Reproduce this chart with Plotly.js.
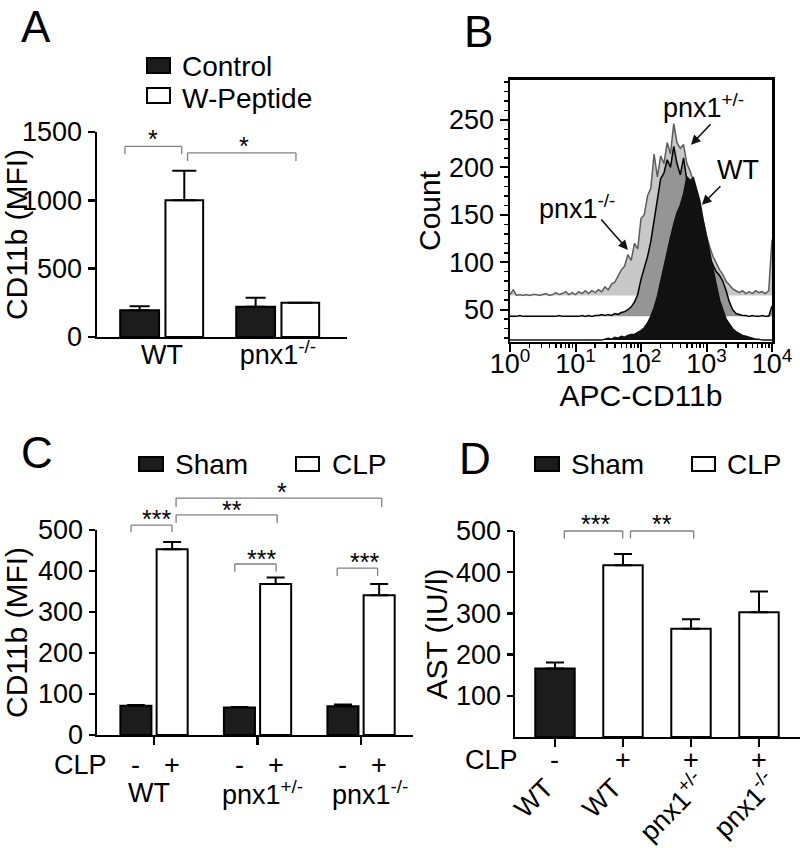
<!DOCTYPE html>
<html><head><meta charset="utf-8">
<script src="https://cdn.plot.ly/plotly-3.0.1.min.js"></script>
<style>html,body{margin:0;padding:0;background:#fff;} #chart{width:800px;height:848px;}</style>
</head><body><div id="chart"></div>
<script>
// ---------------- Panel A data ----------------
const aGroups = ['WT', 'pnx1<sup>-/-</sup>'];
const aControl = [195, 222];
const aControlErr = [30, 66];
const aPeptide = [1000, 251];
const aPeptideErr = [217, 0];

// ---------------- Panel B data (offset histograms; x = log10 APC-CD11b) ----------------
const bExp = [0.00,0.05,0.10,0.15,0.20,0.25,0.30,0.35,0.40,0.45,0.50,0.55,0.60,0.65,0.70,0.75,0.80,0.85,0.90,0.95,
              1.00,1.05,1.10,1.15,1.20,1.25,1.30,1.35,1.40,1.45,1.50,1.55,1.60,1.65,1.70,1.75,1.80,1.85,1.90,1.95,
              2.00,2.05,2.10,2.15,2.20,2.25,2.30,2.35,2.40,2.45,2.50,2.55,2.60,2.65,2.70,2.75,2.80,2.85,2.90,2.95,
              3.00,3.05,3.10,3.15,3.20,3.25,3.30,3.35,3.40,3.45,3.50,3.55,3.60,3.65,3.70,3.75,3.80,3.85,3.90,3.95,4.00];
const bKO  = [66,71,65,66,65,66,65,66,66,65,66,67,65,66,68,66,67,69,66,68,
              66,69,67,70,67,70,68,71,69,74,71,77,79,85,92,96,108,102,120,114,
              146,150,170,178,214,190,212,204,226,214,246,226,220,224,204,196,186,174,158,142,
              128,116,106,99,92,87,80,76,72,70,68,70,67,69,67,70,68,69,67,70,124];
const bHet = [43,43,43,44,43,43,43,43,43,43,43,43,43,43,43,44,43,43,43,43,
              43,43,44,43,44,43,44,44,45,44,45,44,46,45,47,48,50,53,58,66,
              82,94,106,122,146,166,188,194,208,200,222,204,192,210,186,182,178,166,150,132,
              118,104,96,90,86,80,70,58,50,46,45,44,44,43,44,43,43,44,43,43,54];
const bWT  = [18,18,18,18,18,18,18,18,18,18,18,18,18,18,18,18,18,18,18,18,
              18,18,18,18,18,18,18,18,18,19,20,19,21,20,22,21,23,24,24,26,
              28,31,36,43,52,64,80,94,110,126,140,152,160,172,190,186,189,176,164,144,
              126,110,92,76,60,49,40,35,30,27,25,23,22,21,20,19,19,18,18,18,18];
const bBaseKO = 65, bBaseHet = 43, bBaseWT = 18;

// ---------------- Panel C data ----------------
const cGroups = ['WT', 'pnx1<sup>+/-</sup>', 'pnx1<sup>-/-</sup>'];
const cSham = [71, 67, 70];
const cShamErr = [2, 1.5, 4.5];
const cCLP = [453, 368, 341];
const cCLPErr = [18, 16, 27];

// ---------------- Panel D data ----------------
const dGenotype = ['WT', 'WT', 'pnx1<sup>+/-</sup>', 'pnx1<sup>-/-</sup>'];
const dCLP = ['-', '+', '+', '+'];
const dAST = [166, 417, 263, 303];
const dASTErr = [15, 27, 23, 50];

// ---------------- styling ----------------
const FONT = 'Liberation Sans, Arial, Helvetica, sans-serif';
const TICK = 27, TITLE = 30, LEG = 28, STAR = 25, LETTER = 44;
const DARK = '#1c1c1c';
const BRK = '#808080';
const zeros = a => a.map(() => 0);

function errY(arr, w) {
  return {type: 'data', symmetric: false, array: arr, arrayminus: zeros(arr),
          color: '#000', thickness: 2, width: w};
}
function barTrace(x, y, err, xa, ya, fill, offset, width, capw) {
  return {type: 'bar', x: x, y: y, xaxis: xa, yaxis: ya, offset: offset, width: width,
          marker: {color: fill, line: {color: '#000', width: 2}},
          error_y: errY(err, capw), showlegend: false, hoverinfo: 'skip'};
}

const traces = [];
// Panel A
traces.push(barTrace(aGroups, aControl, aControlErr, 'x', 'y', DARK, -0.36, 0.335, 10));
traces.push(barTrace(aGroups, aPeptide, aPeptideErr, 'x', 'y', '#fff', 0.03, 0.325, 12));

// Panel B
const bX = bExp.map(e => Math.pow(10, e));
function histPair(vals, base, fillc, linec) {
  traces.push({type: 'scatter', mode: 'lines', x: bX, y: bX.map(() => base), xaxis: 'x2', yaxis: 'y2',
               line: {width: 0, color: fillc}, showlegend: false, hoverinfo: 'skip'});
  traces.push({type: 'scatter', mode: 'lines', x: bX, y: vals, xaxis: 'x2', yaxis: 'y2',
               fill: 'tonexty', fillcolor: fillc, line: {width: 1.5, color: linec},
               showlegend: false, hoverinfo: 'skip'});
}
histPair(bKO, bBaseKO, '#c8c8c8', '#5c5c5c');
histPair(bHet, bBaseHet, '#959595', '#000000');
histPair(bWT, bBaseWT, '#111111', '#111111');

// Panel C
traces.push(barTrace(cGroups, cSham, cShamErr, 'x3', 'y3', DARK, -0.325, 0.30, 9));
traces.push(barTrace(cGroups, cCLP, cCLPErr, 'x3', 'y3', '#fff', 0.025, 0.30, 9));

// Panel D
const dIdx = dAST.map((v, i) => i);
const dSh = dIdx.filter(i => dCLP[i] === '-');
const dCl = dIdx.filter(i => dCLP[i] === '+');
traces.push(barTrace(dSh, dSh.map(i => dAST[i]), dSh.map(i => dASTErr[i]), 'x4', 'y4', DARK, -0.29, 0.58, 9));
traces.push(barTrace(dCl, dCl.map(i => dAST[i]), dCl.map(i => dASTErr[i]), 'x4', 'y4', '#fff', -0.29, 0.58, 9));

// ---------------- axes ----------------
const baseAxis = {showline: true, linecolor: '#000', linewidth: 2.5, showgrid: false, zeroline: false,
                  tickcolor: '#000', tickwidth: 2.5, tickfont: {size: TICK, color: '#000', family: FONT}};
const layout = {
  width: 800, height: 848, margin: {l: 0, r: 0, t: 0, b: 0},
  paper_bgcolor: '#fff', plot_bgcolor: 'rgba(0,0,0,0)',
  font: {family: FONT, color: '#000'},
  barmode: 'overlay', showlegend: false,
  xaxis: Object.assign({}, baseAxis, {domain: [0.12125, 0.43375], anchor: 'y', type: 'category',
          range: [-0.56, 1.595], ticks: '', ticklabelstandoff: -8}),
  yaxis: Object.assign({}, baseAxis, {domain: [0.6026, 0.8443], anchor: 'x', range: [0, 1500],
          tickvals: [0, 500, 1000, 1500], ticks: 'outside', ticklen: 7,
          title: {text: 'CD11b (MFI)', font: {size: TITLE}, standoff: 2}}),
  xaxis2: Object.assign({}, baseAxis, {domain: [0.6375, 0.965], anchor: 'y2', type: 'log', range: [0, 4],
          tickvals: [1, 10, 100, 1000, 10000],
          ticktext: ['10<sup>0</sup>', '10<sup>1</sup>', '10<sup>2</sup>', '10<sup>3</sup>', '10<sup>4</sup>'],
          ticks: 'outside', ticklen: 8, tickwidth: 2, mirror: true, ticklabelstandoff: -12,
          minor: {dtick: 'D1', ticks: 'outside', ticklen: 4, tickwidth: 1.5, tickcolor: '#000', showgrid: false},
          title: {text: 'APC-CD11b', font: {size: TITLE}, standoff: 0}}),
  yaxis2: Object.assign({}, baseAxis, {domain: [0.5967, 0.9057], anchor: 'x2', range: [16, 292],
          tickvals: [50, 100, 150, 200, 250], ticks: 'outside', ticklen: 8, tickwidth: 2, mirror: true,
          minor: {dtick: 10, tick0: 0, ticks: 'outside', ticklen: 4, tickwidth: 1.5, tickcolor: '#000', showgrid: false},
          title: {text: 'Count', font: {size: TITLE}, standoff: 0}}),
  xaxis3: Object.assign({}, baseAxis, {domain: [0.12125, 0.51625], anchor: 'y3', type: 'category',
          range: [-0.551, 2.502], ticks: 'outside', ticklen: 8, showticklabels: false}),
  yaxis3: Object.assign({}, baseAxis, {domain: [0.1333, 0.375], anchor: 'x3', range: [0, 500],
          tickvals: [0, 100, 200, 300, 400, 500], ticks: 'outside', ticklen: 6,
          title: {text: 'CD11b (MFI)', font: {size: TITLE}, standoff: 2}}),
  xaxis4: Object.assign({}, baseAxis, {domain: [0.64375, 1.0], anchor: 'y4', range: [-0.588, 3.603],
          tickvals: [0, 1, 2, 3], ticks: 'outside', ticklen: 8, showticklabels: false}),
  yaxis4: Object.assign({}, baseAxis, {domain: [0.1309, 0.3738], anchor: 'x4', range: [0, 500],
          tickvals: [100, 200, 300, 400, 500], ticks: 'outside', ticklen: 6,
          title: {text: 'AST (IU/l)', font: {size: TITLE}, standoff: 0}}),
  shapes: [], annotations: []
};

const S = layout.shapes, A = layout.annotations;
// convert axis values to paper fractions (annotations outside an axis range are hidden otherwise)
function xP(ax, v) { const a = layout[ax]; return a.domain[0] + (v - a.range[0]) / (a.range[1] - a.range[0]) * (a.domain[1] - a.domain[0]); }
function yP(ax, v) { const a = layout[ax]; return a.domain[0] + (v - a.range[0]) / (a.range[1] - a.range[0]) * (a.domain[1] - a.domain[0]); }
function txt(x, y, text, size, extra) {
  A.push(Object.assign({x: x, y: y, xref: 'paper', yref: 'paper', text: text, showarrow: false,
    font: {size: size, color: '#000', family: FONT}, xanchor: 'center', yanchor: 'middle'}, extra || {}));
}
function txtD(xa, ya, x, y, text, size, extra) { txt(xP(xa, x), yP(ya, y), text, size, extra); }
function bracket(xr, yr, ymax, x0, x1, top, end) {
  const line = (a, b, c, d) => S.push({type: 'line', xref: xr, yref: yr + ' domain', x0: a, x1: b,
    y0: c / ymax, y1: d / ymax, line: {color: BRK, width: 1.3}});
  line(x0, x0, end, top); line(x0, x1, top, top); line(x1, x1, top, end);
}
function legBox(px0, py0, px1, py1, fill) {
  S.push({type: 'rect', xref: 'paper', yref: 'paper', x0: px0 / 800, x1: px1 / 800,
          y0: 1 - py1 / 848, y1: 1 - py0 / 848, fillcolor: fill, line: {color: '#000', width: 2}});
}
function legText(px, py, t) { txt(px / 800, 1 - py / 848, t, LEG, {xanchor: 'left'}); }

// Panel letters
txt(36 / 800, 1, 'A', LETTER, {yanchor: 'top'});
txt(478 / 800, 1 - 5 / 848, 'B', LETTER, {yanchor: 'top'});
txt(37 / 800, 1 - 452 / 848, 'C', LETTER);
txt(475 / 800, 1 - 458 / 848, 'D', LETTER);

// Legends
legBox(147, 58, 170, 73, DARK); legText(180, 67, 'Control');
legBox(147, 88, 170, 103, '#fff'); legText(180, 98, 'W-Peptide');
legBox(139, 457, 163, 471, DARK); legText(173, 465, 'Sham');
legBox(296, 457, 319, 471, '#fff'); legText(330, 465, 'CLP');
legBox(535, 457, 559, 471, DARK); legText(569, 465, 'Sham');
legBox(692, 457, 715, 471, '#fff'); legText(725, 465, 'CLP');

// Panel A significance
bracket('x', 'y', 1500, -0.319, 0.17, 1395, 1337);
bracket('x', 'y', 1500, 0.221, 1.155, 1347, 1288);
txtD('xaxis', 'yaxis', -0.078, 1452, '*', STAR);
txtD('xaxis', 'yaxis', 0.707, 1401, '*', STAR);

// Panel B arrows + labels
function arrow(e, c, ax, ay) {
  A.push({x: e, y: c, xref: 'x2', yref: 'y2', text: '', showarrow: true, ax: ax, ay: ay,
          arrowhead: 2, arrowsize: 1.2, arrowwidth: 1.6, arrowcolor: '#111'});
}
arrow(2.763, 223.7, 21, -22);
arrow(2.93, 160.5, 20, -20);
arrow(1.80, 113, -28, -32);
txtD('xaxis2', 'yaxis2', 2.96, 264.7, 'pnx1<sup>+/-</sup>', TICK);
txtD('xaxis2', 'yaxis2', 3.48, 197, 'WT', TICK);
txtD('xaxis2', 'yaxis2', 1.02, 158, 'pnx1<sup>-/-</sup>', TICK);

// Panel C significance
bracket('x3', 'y3', 500, -0.222, 0.174, 512, 495);
bracket('x3', 'y3', 500, 0.213, 1.19, 537, 517);
bracket('x3', 'y3', 500, 0.213, 2.2, 578, 556);
bracket('x3', 'y3', 500, 0.78, 1.18, 417, 398);
bracket('x3', 'y3', 500, 1.77, 2.16, 407, 388);
txtD('xaxis3', 'yaxis3', 0.026, 528, '***', STAR);
txtD('xaxis3', 'yaxis3', 0.75, 549, '**', STAR);
txtD('xaxis3', 'yaxis3', 1.234, 593, '*', STAR);
txtD('xaxis3', 'yaxis3', 1.04, 430, '***', STAR);
txtD('xaxis3', 'yaxis3', 2.03, 422, '***', STAR);

// Panel C category rows
txtD('xaxis3', 'yaxis3', -0.715, -73, 'CLP', TICK);
cGroups.forEach((g, i) => {
  txtD('xaxis3', 'yaxis3', i - 0.175, -73, '-', TICK);
  txtD('xaxis3', 'yaxis3', i + 0.175, -73, '+', TICK);
  txtD('xaxis3', 'yaxis3', i + [-0.05, 0.05, 0.09][i], -141, g, TICK);
});

// Panel D significance
bracket('x4', 'y4', 500, 0.137, 0.996, 500, 482);
bracket('x4', 'y4', 500, 1.11, 2.04, 500, 482);
txtD('xaxis4', 'yaxis4', 0.6, 517, '***', STAR);
txtD('xaxis4', 'yaxis4', 1.57, 517, '**', STAR);

// Panel D category rows
txtD('xaxis4', 'yaxis4', -0.94, -56, 'CLP', TICK);
const dLabX = [0.11, 1.11, 2.36, 3.40];
const dLabY = [-80, -80, -62, -62];
dGenotype.forEach((g, i) => {
  txtD('xaxis4', 'yaxis4', i, -56, dCLP[i], TICK);
  txtD('xaxis4', 'yaxis4', dLabX[i], dLabY[i], g, TICK, {textangle: -45, xanchor: 'right', yanchor: 'top'});
});

Plotly.newPlot('chart', traces, layout, {staticPlot: true, displayModeBar: false});
</script>
</body></html>
